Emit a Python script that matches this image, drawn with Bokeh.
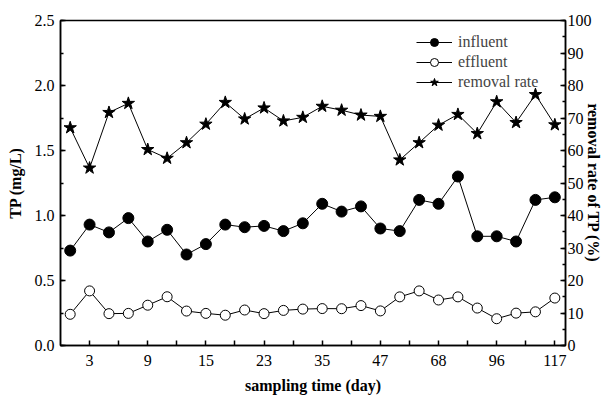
from bokeh.plotting import figure
from bokeh.models import (Range1d, LinearAxis, FixedTicker, SingleIntervalTicker,
                          NumeralTickFormatter, Legend, LegendItem)
from bokeh.embed import file_html
from bokeh.resources import INLINE

# sample index (1..26) and labelled sampling days
sample = list(range(1, 27))
label_pos = [2, 5, 8, 11, 14, 17, 20, 23, 26]
day_labels = ["3", "9", "15", "23", "35", "47", "68", "96", "117"]

influent = [0.73, 0.93, 0.87, 0.98, 0.80, 0.89, 0.70, 0.78, 0.93, 0.91, 0.92, 0.88, 0.94,
            1.09, 1.03, 1.07, 0.90, 0.88, 1.12, 1.09, 1.30, 0.84, 0.84, 0.80, 1.12, 1.14]
effluent = [0.24, 0.42, 0.245, 0.247, 0.31, 0.375, 0.265, 0.247, 0.233, 0.273, 0.245, 0.27, 0.28,
            0.284, 0.283, 0.307, 0.266, 0.374, 0.42, 0.35, 0.374, 0.288, 0.206, 0.249, 0.259, 0.365]
removal = [67.0, 54.6, 71.7, 74.5, 60.3, 57.6, 62.4, 68.1, 74.8, 69.7, 73.1, 69.1, 70.2,
           73.6, 72.4, 70.9, 70.5, 57.1, 62.4, 67.8, 71.1, 65.2, 75.0, 68.6, 77.2, 67.9]

FONT = "Liberation Serif"

p = figure(width=611, height=412, output_backend="svg", toolbar_location=None,
           x_range=Range1d(0.5, 26.55), y_range=Range1d(0, 2.5),
           min_border_left=60, min_border_right=46, min_border_top=20, min_border_bottom=67)
p.extra_y_ranges = {"rate": Range1d(0, 100)}
p.xgrid.visible = False
p.ygrid.visible = False
p.outline_line_color = "black"
p.outline_line_width = 1.5
p.background_fill_color = "white"
p.border_fill_color = "white"

minor_pos = [x + 1.5 for x in label_pos[:-1]]
p.xaxis.ticker = FixedTicker(ticks=label_pos, minor_ticks=minor_pos)
p.xaxis.major_label_overrides = {k: v for k, v in zip(label_pos, day_labels)}
p.xaxis.axis_label = "sampling time (day)"

p.yaxis.ticker = SingleIntervalTicker(interval=0.5, num_minor_ticks=2)
p.yaxis.formatter = NumeralTickFormatter(format="0.0")
p.yaxis.axis_label = "TP (mg/L)"

right = LinearAxis(y_range_name="rate", axis_label="removal rate of TP (%)",
                   ticker=SingleIntervalTicker(interval=10, num_minor_ticks=2))
p.add_layout(right, "right")

for ax in [p.xaxis[0], p.yaxis[0], right]:
    ax.major_tick_in = 5
    ax.major_tick_out = 0
    ax.minor_tick_in = 3
    ax.minor_tick_out = 0
    ax.axis_line_width = 1.5
    ax.major_tick_line_width = 1.5
    ax.minor_tick_line_width = 1.5
    ax.major_label_text_font = FONT
    ax.major_label_text_font_size = "16px"
    ax.major_label_text_color = "black"
    ax.major_label_text_line_height = 1.0
    ax.axis_label_text_font = FONT
    ax.axis_label_text_font_style = "bold"
    ax.axis_label_text_font_size = "16px"
    ax.axis_label_text_color = "black"
    ax.axis_label_text_line_height = 1.0
p.xaxis[0].minor_tick_in = 5
p.xaxis[0].major_label_standoff = 9
p.xaxis[0].axis_label_standoff = 8
p.yaxis[0].major_label_standoff = 6
p.yaxis[0].axis_label_standoff = 8
right.major_label_standoff = 2
right.axis_label_standoff = -10

l1 = p.line(sample, influent, line_color="black", line_width=1)
s1 = p.scatter(sample, influent, marker="circle", size=11, fill_color="black", line_color="black")
l2 = p.line(sample, effluent, line_color="black", line_width=1)
s2 = p.scatter(sample, effluent, marker="circle", size=10, fill_color="white", line_color="black", line_width=1)
l3 = p.line(sample, removal, line_color="black", line_width=1, y_range_name="rate")
s3 = p.scatter(sample, removal, marker="star", size=13, fill_color="black", line_color="black",
               y_range_name="rate")

legend = Legend(items=[LegendItem(label="influent", renderers=[l1, s1]),
                       LegendItem(label="effluent", renderers=[l2, s2]),
                       LegendItem(label="removal rate", renderers=[l3, s3])],
                location=(356, 253), padding=0, margin=0, spacing=0,
                glyph_width=36, glyph_height=20, label_height=20, label_standoff=6,
                label_text_font=FONT, label_text_font_size="16px",
                border_line_alpha=0, background_fill_alpha=0)
p.add_layout(legend, "center")

open("out.html", "w").write(file_html(p, INLINE))
